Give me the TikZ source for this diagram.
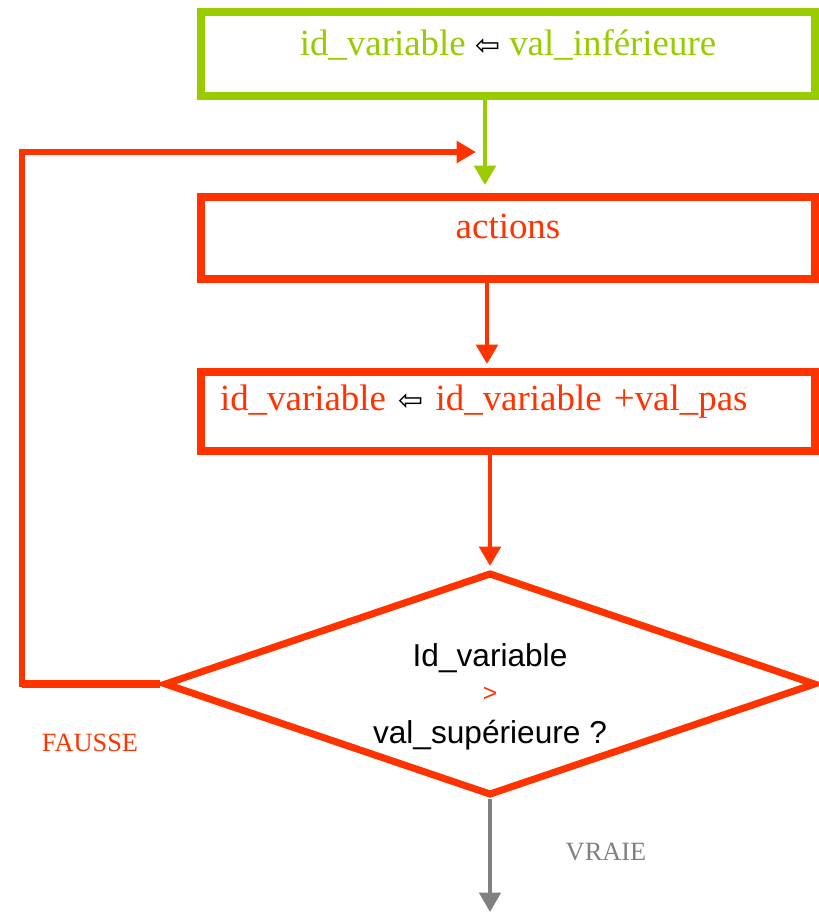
\documentclass[tikz,border=0pt]{standalone}
\usepackage{fontspec}
\setmainfont{Liberation Serif}
\newfontfamily\diafont{Liberation Sans}
\newfontfamily\symfont{DejaVu Sans}
\usetikzlibrary{arrows.meta, shapes.geometric, calc}

\definecolor{initgreen}{RGB}{153,204,0}
\definecolor{loopred}{RGB}{255,51,0}
\definecolor{endgray}{RGB}{128,128,128}

\newcommand{\affect}{{\symfont\fontsize{17}{17}\selectfont\color{black}⇦}}

\begin{document}
\begin{tikzpicture}[
  font=\fontsize{21}{25}\selectfont,
  box/.style={draw, line width=4.5pt, minimum width=12.28cm, minimum height=1.64cm,
              inner sep=0pt, text depth=0.45cm, fill=white},
  diam/.style={draw=loopred, diamond, line width=4pt, inner sep=0pt,
               minimum width=13.04cm, minimum height=4.46cm},
  arr/.style={-{Triangle[length=11pt, width=12pt]}, line width=2.8pt},
]
\useasboundingbox (0,0) rectangle (16.38,-18.32);

\node[box, draw=initgreen, text=initgreen, minimum height=1.68cm] (init) at (10.16,-1.08)
  {id\_variable \affect\ val\_inférieure};

\node[box, draw=loopred, text=loopred] (actions) at (10.16,-4.76) {actions};

\node[box, draw=loopred, text=loopred, minimum height=1.58cm, text depth=0.55cm,
      text width=11.52cm, align=left, inner xsep=0.38cm] (incr) at (10.16,-8.23)
  {id\_variable \affect\ id\_variable +val\_pas};

\node[diam] (cond) at (9.8,-13.68) {};
\node[align=center, font=\diafont\fontsize{18}{22}\selectfont] (condtext) at ([yshift=-0.26cm]cond.center)
  {Id\_variable\\[-2pt]{\color{loopred}\fontsize{14}{14}\selectfont >}\\[2pt]val\_supérieure ?};

\coordinate (loopx) at (0.44,0);
\coordinate (entry) at (9.7,-3.04);
\coordinate (out) at (9.8,-18.24);

\node[text=loopred, font=\fontsize{15}{17}\selectfont] (fausse) at (1.8,-14.86) {FAUSSE};
\node[text=endgray, font=\fontsize{15}{17}\selectfont] (vraie) at (12.12,-17.04) {VRAIE};

\draw[arr, initgreen] ([xshift=-0.46cm]init.south) -- ([xshift=-0.46cm,yshift=0.16cm]actions.north);
\draw[arr, loopred] ([xshift=-0.42cm]actions.south) -- ([xshift=-0.42cm,yshift=0.08cm]incr.north);
\draw[arr, loopred] (incr.south -| cond.north) -- ([yshift=0.06cm]cond.north);
\draw[arr, loopred, line width=3.4pt, shorten >=0.18cm] (cond.west) -- (cond.west -| loopx) |- (entry);
\draw[loopred, line width=5pt] (cond.west) -- (cond.west -| loopx);
\draw[arr, endgray, line width=2.3pt] (cond.south) -- (out);

\end{tikzpicture}
\end{document}
